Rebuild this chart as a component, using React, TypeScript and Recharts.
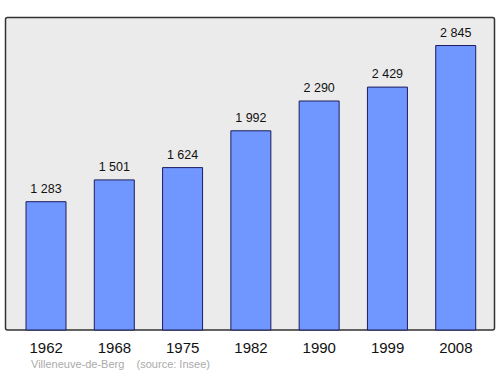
import { BarChart, Bar, XAxis, YAxis, LabelList } from "recharts";

const years = ["1962", "1968", "1975", "1982", "1990", "1999", "2008"];
const population = [1283, 1501, 1624, 1992, 2290, 2429, 2845];

const data = years.map((year, i) => ({ year, value: population[i] }));

// French style thousands separator: 2845 -> "2 845"
const formatPop = (v: any) => String(v).replace(/\B(?=(\d{3})+(?!\d))/g, " ");

// drop the default body margin so the chart sits at the page corner
if (typeof document !== "undefined") document.body.style.margin = "0";

const App = () => {
  return (
    <div
      style={{
        position: "relative",
        width: 500,
        height: 374,
        fontFamily: "Liberation Sans, Arial, sans-serif",
      }}
    >
      {/* plot frame behind the bars */}
      <svg width={500} height={374} style={{ position: "absolute", left: 0, top: 0 }}>
        <rect x={5.5} y={17.5} width={489} height={312.5} rx={2} fill="#ebebeb" stroke="#333" strokeWidth={1.5} />
      </svg>
      <div style={{ position: "absolute", left: 0, top: 0 }}>
        <BarChart
          width={500}
          height={374}
          data={data}
          margin={{ top: 17, right: 5, bottom: 14, left: 5 }}
        >
          <XAxis
            dataKey="year"
            axisLine={false}
            tickLine={false}
            tickSize={6}
            tickMargin={6}
            height={30}
            padding={{ left: 7, right: 5 }}
            tick={{ fontSize: 15, fill: "#111" }}
          />
          <YAxis hide domain={[0, 3130]} />
          <Bar dataKey="value" fill="#7096ff" stroke="#1c1c5e" strokeWidth={1} barSize={40} isAnimationActive={false}>
            <LabelList dataKey="value" position="top" offset={9} formatter={formatPop} style={{ fontSize: 12.5, fill: "#111" }} />
          </Bar>
        </BarChart>
      </div>
      <div
        style={{
          position: "absolute",
          left: 31,
          top: 358,
          fontSize: 11,
          lineHeight: "13px",
          color: "#aaa",
          whiteSpace: "pre",
        }}
      >
        {"Villeneuve-de-Berg    (source: Insee)"}
      </div>
    </div>
  );
};

export default App;
